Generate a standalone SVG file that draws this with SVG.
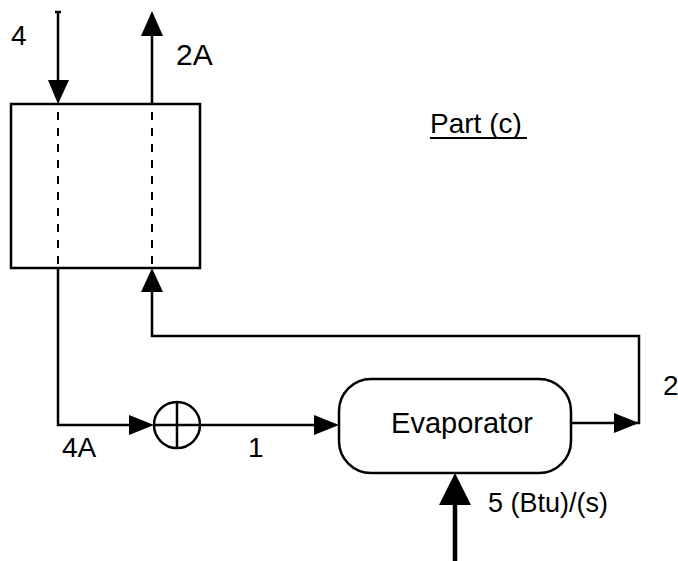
<svg xmlns="http://www.w3.org/2000/svg" width="678" height="561" viewBox="0 0 678 561">
<defs>
<style>
.ln{fill:none;stroke:#000;stroke-width:2.5}
.dash{fill:none;stroke:#000;stroke-width:2;stroke-dasharray:8,8}
.ah{fill:#000;stroke:none}
.t{font-family:"Liberation Sans",Arial,sans-serif;font-size:28px;fill:#000}
</style>
</defs>
<rect width="678" height="561" fill="#fff"/>
<g id="exchanger">
<rect x="11" y="104" width="189" height="164" class="ln"/>
<line x1="58" y1="112" x2="58" y2="268" class="dash"/>
<line x1="152" y1="112" x2="152" y2="268" class="dash"/>
</g>
<g id="mixer">
<circle cx="177" cy="425" r="23" class="ln"/>
<line x1="177" y1="402" x2="177" y2="448" class="ln"/>
<line x1="154" y1="425" x2="200" y2="425" class="ln"/>
</g>
<g id="evaporator">
<rect x="339" y="379" width="232" height="94" rx="32" ry="32" class="ln"/>
<text x="462" y="433" class="t" text-anchor="middle" style="font-size:29px">Evaporator</text>
</g>
<g id="title">
<text x="430" y="133" class="t">Part (c)</text>
<line x1="430" y1="138" x2="527" y2="138" stroke="#000" stroke-width="2"/>
</g>
<g id="connectors">
<line x1="58" y1="12" x2="58" y2="84" class="ln"/>
<line x1="55" y1="12" x2="61" y2="12" class="ln" stroke-width="1.5"/>
<polygon points="48,80 69,80 58,104" class="ah"/>
<line x1="152" y1="104" x2="152" y2="30" class="ln"/>
<polygon points="141,36 163,36 152,11" class="ah"/>
<polyline points="58,268 58,425 132,425" class="ln"/>
<polygon points="129,415 129,435 154,425" class="ah"/>
<line x1="200" y1="425" x2="318" y2="425" class="ln"/>
<polygon points="314,415 314,435 339,425" class="ah"/>
<polyline points="571,423 639,423 639,336 152,336 152,288" class="ln"/>
<polygon points="614,413 614,433 639,423" class="ah"/>
<polygon points="141,292 163,292 152,268" class="ah"/>
<line x1="455" y1="561" x2="455" y2="500" stroke="#000" stroke-width="4.5"/>
<polygon points="439,505 471,505 455,473" class="ah"/>
</g>
<g id="labels">
<text x="11" y="45" class="t">4</text>
<text x="176" y="65" class="t" style="font-size:30px">2A</text>
<text x="62" y="457" class="t">4A</text>
<text x="248" y="457" class="t">1</text>
<text x="663" y="395" class="t">2</text>
<text x="488" y="512" class="t" style="font-size:27px">5 (Btu)/(s)</text>
</g>
</svg>
